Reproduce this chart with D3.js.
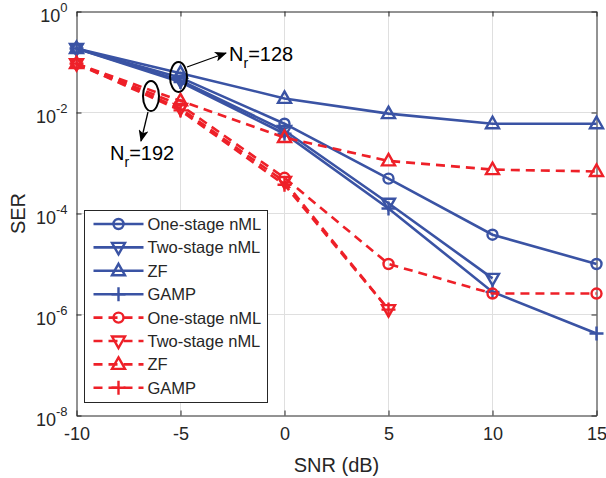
<!DOCTYPE html>
<html>
<head>
<meta charset="utf-8">
<script src="https://cdn.jsdelivr.net/npm/d3@7"></script>
<style>
body { margin: 0; background: #fff; }
svg { font-family: "Liberation Sans", Arial, sans-serif; }
.grid line { stroke: #dfdfdf; stroke-width: 1; }
.axis path, .axis line { stroke: #262626; stroke-width: 1; }
.axis text { fill: #262626; font-size: 18px; }
</style>
</head>
<body>
<svg id="chart" width="606" height="478" viewBox="0 0 606 478"></svg>
<script>
var snr = [-10, -5, 0, 5, 10, 15];
var yTicks = [1, 1e-2, 1e-4, 1e-6, 1e-8];
var yExps = ["0", "-2", "-4", "-6", "-8"];
var methods = ["One-stage nML", "Two-stage nML", "ZF", "GAMP"];
var markers = ["circle", "down", "up", "plus"];

// N_r = 128, blue solid
var oneStage128 = [0.185, 0.049, 6.0e-3, 4.9e-4, 3.8e-5, 1.0e-5];
var twoStage128 = [0.185, 0.043, 4.4e-3, 1.6e-4, 5.2e-6, null];
var zf128 = [0.185, 0.060, 1.9e-2, 9.5e-3, 6.0e-3, 6.0e-3];
var gamp128 = [0.185, 0.040, 3.8e-3, 1.26e-4, 2.8e-6, 4.2e-7];
// N_r = 192, red dashed
var oneStage192 = [0.093, 0.014, 5.1e-4, 1.0e-5, 2.6e-6, 2.6e-6];
var twoStage192 = [0.093, 0.012, 4.3e-4, 1.25e-6, null, null];
var zf192 = [0.093, 0.017, 3.2e-3, 1.1e-3, 7.4e-4, 6.8e-4];
var gamp192 = [0.093, 0.011, 3.7e-4, 1.25e-6, null, null];

var blue = "#3a53a4", red = "#ee2028";
var series = [
	{name: methods[0], marker: markers[0], color: blue, dash: null, values: oneStage128},
	{name: methods[1], marker: markers[1], color: blue, dash: null, values: twoStage128},
	{name: methods[2], marker: markers[2], color: blue, dash: null, values: zf128},
	{name: methods[3], marker: markers[3], color: blue, dash: null, values: gamp128},
	{name: methods[0], marker: markers[0], color: red, dash: "9,6", values: oneStage192},
	{name: methods[1], marker: markers[1], color: red, dash: "9,6", values: twoStage192},
	{name: methods[2], marker: markers[2], color: red, dash: "9,6", values: zf192},
	{name: methods[3], marker: markers[3], color: red, dash: "9,6", values: gamp192}
];

var plotL = 76.5, plotR = 596.5, plotT = 11.5, plotB = 415.5;
var x = d3.scaleLinear().domain([-10, 15]).range([plotL, plotR]);
var y = d3.scaleLog().domain([1e-8, 1]).range([plotB, plotT]);
var chart = d3.select("#chart");

// marker shapes around the origin
function markerPath(type) {
	if(type == "circle") return "M5,0A5,5 0 1,1 -5,0A5,5 0 1,1 5,0Z";
	if(type == "up") return "M0,-7L6.5,4.5L-6.5,4.5Z";
	if(type == "down") return "M0,7L6.5,-4.5L-6.5,-4.5Z";
	return "M-7,0L7,0M0,-7L0,7";
}

// grid first so everything covers it
var grid = chart.append("g").attr("class", "grid");
grid.selectAll("line.v").data(snr.slice(1, -1)).enter().append("line").attr("class", "v")
	.attr("x1", function(d) {return x(d);}).attr("x2", function(d) {return x(d);})
	.attr("y1", plotT).attr("y2", plotB);
grid.selectAll("line.h").data(yTicks.slice(1, -1)).enter().append("line").attr("class", "h")
	.attr("y1", function(d) {return y(d);}).attr("y2", function(d) {return y(d);})
	.attr("x1", plotL).attr("x2", plotR);

// axes, ticks pointing inward
var xaxis = chart.append("g").attr("class", "axis").attr("transform", "translate(0," + plotB + ")")
	.call(d3.axisBottom(x).tickValues(snr).tickSize(-5).tickSizeOuter(0).tickPadding(12)
		.tickFormat(function(d) {return String(d);}));
xaxis.selectAll("text").attr("dy", "0.71em");
chart.append("g").attr("class", "axis").attr("transform", "translate(0," + plotT + ")")
	.call(d3.axisTop(x).tickValues(snr).tickSize(-5).tickSizeOuter(0).tickFormat(""));
var yaxis = chart.append("g").attr("class", "axis").attr("transform", "translate(" + plotL + ",0)")
	.call(d3.axisLeft(y).tickValues(yTicks).tickSize(-5).tickSizeOuter(0).tickFormat(""));
chart.append("g").attr("class", "axis").attr("transform", "translate(" + plotR + ",0)")
	.call(d3.axisRight(y).tickValues(yTicks).tickSize(-5).tickSizeOuter(0).tickFormat(""));
yaxis.selectAll(".tick text").remove();
yaxis.selectAll(".tick").append("text").attr("x", -9).attr("y", 10).attr("text-anchor", "end")
	.each(function(d, i) {
		var t = d3.select(this);
		t.append("tspan").text("10");
		t.append("tspan").attr("dy", -10).attr("font-size", 13).text(yExps[i]);
	});

chart.append("text").attr("x", (plotL + plotR) / 2).attr("y", 472).attr("text-anchor", "middle")
	.attr("font-size", 20).attr("fill", "#262626").text("SNR (dB)");
chart.append("text").attr("transform", "translate(25," + ((plotT + plotB) / 2) + ") rotate(-90)")
	.attr("text-anchor", "middle").attr("font-size", 20).attr("fill", "#262626").text("SER");

// curves
var line = d3.line().defined(function(d) {return d[1] != null;})
	.x(function(d) {return x(d[0]);}).y(function(d) {return y(d[1]);});
series.forEach(function(s) {
	var pts = snr.map(function(v, i) {return [v, s.values[i]];});
	var g = chart.append("g");
	g.append("path").attr("d", line(pts)).attr("fill", "none").attr("stroke", s.color)
		.attr("stroke-width", 2.6).attr("stroke-dasharray", s.dash);
	g.selectAll("path.m").data(pts.filter(function(p) {return p[1] != null;})).enter().append("path").attr("class", "m")
		.attr("transform", function(p) {return "translate(" + x(p[0]) + "," + y(p[1]) + ")";})
		.attr("d", markerPath(s.marker)).attr("fill", "none").attr("stroke", s.color).attr("stroke-width", 2.4);
});

// annotations
var defs = chart.append("defs");
defs.append("marker").attr("id", "arr").attr("viewBox", "0 0 12 10").attr("refX", 11).attr("refY", 5)
	.attr("markerWidth", 12).attr("markerHeight", 10).attr("markerUnits", "userSpaceOnUse").attr("orient", "auto")
	.append("path").attr("d", "M0,0L12,5L0,10L3,5Z").attr("fill", "#000");
var ann = chart.append("g").attr("stroke", "#000").attr("fill", "none").attr("stroke-width", 2);
ann.append("ellipse").attr("cx", x(-5) - 2).attr("cy", 77).attr("rx", 8.5).attr("ry", 15);
ann.append("line").attr("x1", 187).attr("y1", 67).attr("x2", 226).attr("y2", 53).attr("stroke-width", 1.3).attr("marker-end", "url(#arr)");
ann.append("ellipse").attr("cx", 151).attr("cy", 96).attr("rx", 8).attr("ry", 15);
ann.append("line").attr("x1", 148).attr("y1", 112).attr("x2", 141).attr("y2", 141).attr("stroke-width", 1.3).attr("marker-end", "url(#arr)");
function nr(xp, yp, val) {
	var t = chart.append("text").attr("x", xp).attr("y", yp).attr("font-size", 20).attr("fill", "#000");
	t.append("tspan").text("N");
	t.append("tspan").attr("dy", 7).attr("font-size", 14).text("r");
	t.append("tspan").attr("dy", -7).text("=" + val);
}
nr(229, 61, "128");
nr(110, 160, "192");

// legend
var lg = chart.append("g").attr("transform", "translate(84.5,210.5)");
lg.append("rect").attr("width", 183).attr("height", 192).attr("fill", "#fff").attr("stroke", "#262626").attr("stroke-width", 1);
series.forEach(function(s, i) {
	var row = lg.append("g").attr("transform", "translate(0," + (13.5 + i * 23.4) + ")");
	row.append("line").attr("x1", 9).attr("x2", 59).attr("stroke", s.color).attr("stroke-width", 2.6).attr("stroke-dasharray", s.dash);
	row.append("path").attr("transform", "translate(34,0)").attr("d", markerPath(s.marker))
		.attr("fill", "none").attr("stroke", s.color).attr("stroke-width", 2.4);
	row.append("text").attr("x", 63).attr("y", 6).attr("font-size", 16.5).attr("fill", "#262626").text(s.name);
});
</script>
</body>
</html>
